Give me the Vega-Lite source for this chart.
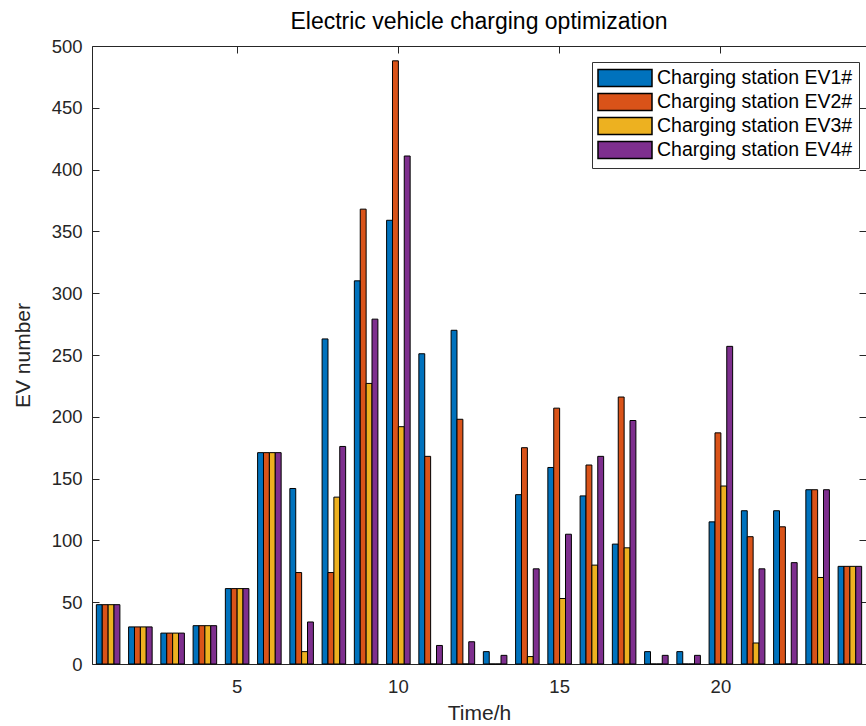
{
  "$schema": "https://vega.github.io/schema/vega-lite/v6.json",
  "width": 774,
  "height": 618,
  "autosize": {"type": "none"},
  "padding": {"left": 92, "top": 46, "right": 0, "bottom": 62},
  "background": "white",
  "config": {
    "font": "Liberation Sans",
    "view": {"stroke": "#262626"},
    "axis": {"grid": false, "domain": false, "tickColor": "#262626", "labelColor": "#262626", "titleColor": "#262626", "labelFont": "Liberation Sans", "titleFont": "Liberation Sans", "titleFontWeight": "normal"},
    "legend": {"strokeColor": "#333333"}
  },
  "title": {"text": "Electric vehicle charging optimization", "fontSize": 23, "fontWeight": "normal", "color": "#000000", "font": "Liberation Sans", "offset": 3},
  "data": {
    "values": [
      {"hour": 1, "station": "Charging station EV1#", "value": 48}, {"hour": 1, "station": "Charging station EV2#", "value": 48}, {"hour": 1, "station": "Charging station EV3#", "value": 48}, {"hour": 1, "station": "Charging station EV4#", "value": 48},
      {"hour": 2, "station": "Charging station EV1#", "value": 30}, {"hour": 2, "station": "Charging station EV2#", "value": 30}, {"hour": 2, "station": "Charging station EV3#", "value": 30}, {"hour": 2, "station": "Charging station EV4#", "value": 30},
      {"hour": 3, "station": "Charging station EV1#", "value": 25}, {"hour": 3, "station": "Charging station EV2#", "value": 25}, {"hour": 3, "station": "Charging station EV3#", "value": 25}, {"hour": 3, "station": "Charging station EV4#", "value": 25},
      {"hour": 4, "station": "Charging station EV1#", "value": 31}, {"hour": 4, "station": "Charging station EV2#", "value": 31}, {"hour": 4, "station": "Charging station EV3#", "value": 31}, {"hour": 4, "station": "Charging station EV4#", "value": 31},
      {"hour": 5, "station": "Charging station EV1#", "value": 61}, {"hour": 5, "station": "Charging station EV2#", "value": 61}, {"hour": 5, "station": "Charging station EV3#", "value": 61}, {"hour": 5, "station": "Charging station EV4#", "value": 61},
      {"hour": 6, "station": "Charging station EV1#", "value": 171}, {"hour": 6, "station": "Charging station EV2#", "value": 171}, {"hour": 6, "station": "Charging station EV3#", "value": 171}, {"hour": 6, "station": "Charging station EV4#", "value": 171},
      {"hour": 7, "station": "Charging station EV1#", "value": 142}, {"hour": 7, "station": "Charging station EV2#", "value": 74}, {"hour": 7, "station": "Charging station EV3#", "value": 10}, {"hour": 7, "station": "Charging station EV4#", "value": 34},
      {"hour": 8, "station": "Charging station EV1#", "value": 263}, {"hour": 8, "station": "Charging station EV2#", "value": 74}, {"hour": 8, "station": "Charging station EV3#", "value": 135}, {"hour": 8, "station": "Charging station EV4#", "value": 176},
      {"hour": 9, "station": "Charging station EV1#", "value": 310}, {"hour": 9, "station": "Charging station EV2#", "value": 368}, {"hour": 9, "station": "Charging station EV3#", "value": 227}, {"hour": 9, "station": "Charging station EV4#", "value": 279},
      {"hour": 10, "station": "Charging station EV1#", "value": 359}, {"hour": 10, "station": "Charging station EV2#", "value": 488}, {"hour": 10, "station": "Charging station EV3#", "value": 192}, {"hour": 10, "station": "Charging station EV4#", "value": 411},
      {"hour": 11, "station": "Charging station EV1#", "value": 251}, {"hour": 11, "station": "Charging station EV2#", "value": 168}, {"hour": 11, "station": "Charging station EV3#", "value": 0}, {"hour": 11, "station": "Charging station EV4#", "value": 15},
      {"hour": 12, "station": "Charging station EV1#", "value": 270}, {"hour": 12, "station": "Charging station EV2#", "value": 198}, {"hour": 12, "station": "Charging station EV3#", "value": 0}, {"hour": 12, "station": "Charging station EV4#", "value": 18},
      {"hour": 13, "station": "Charging station EV1#", "value": 10}, {"hour": 13, "station": "Charging station EV2#", "value": 0}, {"hour": 13, "station": "Charging station EV3#", "value": 0}, {"hour": 13, "station": "Charging station EV4#", "value": 7},
      {"hour": 14, "station": "Charging station EV1#", "value": 137}, {"hour": 14, "station": "Charging station EV2#", "value": 175}, {"hour": 14, "station": "Charging station EV3#", "value": 6}, {"hour": 14, "station": "Charging station EV4#", "value": 77},
      {"hour": 15, "station": "Charging station EV1#", "value": 159}, {"hour": 15, "station": "Charging station EV2#", "value": 207}, {"hour": 15, "station": "Charging station EV3#", "value": 53}, {"hour": 15, "station": "Charging station EV4#", "value": 105},
      {"hour": 16, "station": "Charging station EV1#", "value": 136}, {"hour": 16, "station": "Charging station EV2#", "value": 161}, {"hour": 16, "station": "Charging station EV3#", "value": 80}, {"hour": 16, "station": "Charging station EV4#", "value": 168},
      {"hour": 17, "station": "Charging station EV1#", "value": 97}, {"hour": 17, "station": "Charging station EV2#", "value": 216}, {"hour": 17, "station": "Charging station EV3#", "value": 94}, {"hour": 17, "station": "Charging station EV4#", "value": 197},
      {"hour": 18, "station": "Charging station EV1#", "value": 10}, {"hour": 18, "station": "Charging station EV2#", "value": 0}, {"hour": 18, "station": "Charging station EV3#", "value": 0}, {"hour": 18, "station": "Charging station EV4#", "value": 7},
      {"hour": 19, "station": "Charging station EV1#", "value": 10}, {"hour": 19, "station": "Charging station EV2#", "value": 0}, {"hour": 19, "station": "Charging station EV3#", "value": 0}, {"hour": 19, "station": "Charging station EV4#", "value": 7},
      {"hour": 20, "station": "Charging station EV1#", "value": 115}, {"hour": 20, "station": "Charging station EV2#", "value": 187}, {"hour": 20, "station": "Charging station EV3#", "value": 144}, {"hour": 20, "station": "Charging station EV4#", "value": 257},
      {"hour": 21, "station": "Charging station EV1#", "value": 124}, {"hour": 21, "station": "Charging station EV2#", "value": 103}, {"hour": 21, "station": "Charging station EV3#", "value": 17}, {"hour": 21, "station": "Charging station EV4#", "value": 77},
      {"hour": 22, "station": "Charging station EV1#", "value": 124}, {"hour": 22, "station": "Charging station EV2#", "value": 111}, {"hour": 22, "station": "Charging station EV3#", "value": 0}, {"hour": 22, "station": "Charging station EV4#", "value": 82},
      {"hour": 23, "station": "Charging station EV1#", "value": 141}, {"hour": 23, "station": "Charging station EV2#", "value": 141}, {"hour": 23, "station": "Charging station EV3#", "value": 70}, {"hour": 23, "station": "Charging station EV4#", "value": 141},
      {"hour": 24, "station": "Charging station EV1#", "value": 79}, {"hour": 24, "station": "Charging station EV2#", "value": 79}, {"hour": 24, "station": "Charging station EV3#", "value": 79}, {"hour": 24, "station": "Charging station EV4#", "value": 79}
    ]
  },
  "layer": [
    {
      "mark": {"type": "bar", "stroke": "#000000"},
      "encoding": {
        "x": {
          "field": "hour", "type": "ordinal",
          "scale": {"paddingInner": 0.27, "paddingOuter": 0.135},
          "axis": {"orient": "bottom", "values": [5, 10, 15, 20], "labelAngle": 0, "labelFontSize": 18.5, "tickSize": -7, "labelPadding": 20, "title": "Time/h", "titleFontSize": 21, "titlePadding": 7}
        },
        "xOffset": {"field": "station", "type": "nominal", "scale": {"paddingInner": 0, "paddingOuter": 0}},
        "y": {
          "field": "value", "type": "quantitative",
          "scale": {"domain": [0, 500], "nice": false},
          "axis": {"orient": "left", "values": [0, 50, 100, 150, 200, 250, 300, 350, 400, 450, 500], "labelFontSize": 18.5, "tickSize": -7, "labelPadding": 17, "title": "EV number", "titleFontSize": 21, "titlePadding": 18}
        },
        "color": {
          "field": "station", "type": "nominal",
          "scale": {"range": ["#0072BD", "#D95319", "#EDB120", "#7E2F8E"]},
          "legend": {
            "title": null, "orient": "none", "legendX": 500, "legendY": 16,
            "direction": "vertical",
            "fillColor": "white",
            "padding": 6, "rowPadding": 0,
            "symbolType": "M-3,-0.945H3V0.945H-3Z", "symbolSize": 324, "symbolOffset": 17,
            "symbolStrokeColor": "#000000",
            "labelFontSize": 19.5, "labelColor": "#000000", "labelFont": "Liberation Sans", "labelOffset": 22, "labelLimit": 300
          }
        }
      }
    },
    {
      "mark": {"type": "bar", "opacity": 0},
      "encoding": {
        "x": {"field": "hour", "type": "ordinal", "axis": {"orient": "top", "values": [5, 10, 15, 20], "labels": false, "tickSize": -7, "title": null}},
        "xOffset": {"field": "station", "type": "nominal"},
        "y": {"field": "value", "type": "quantitative", "axis": {"orient": "right", "values": [0, 50, 100, 150, 200, 250, 300, 350, 400, 450, 500], "labels": false, "tickSize": -7, "title": null}}
      }
    }
  ],
  "resolve": {"axis": {"x": "independent", "y": "independent"}}
}
